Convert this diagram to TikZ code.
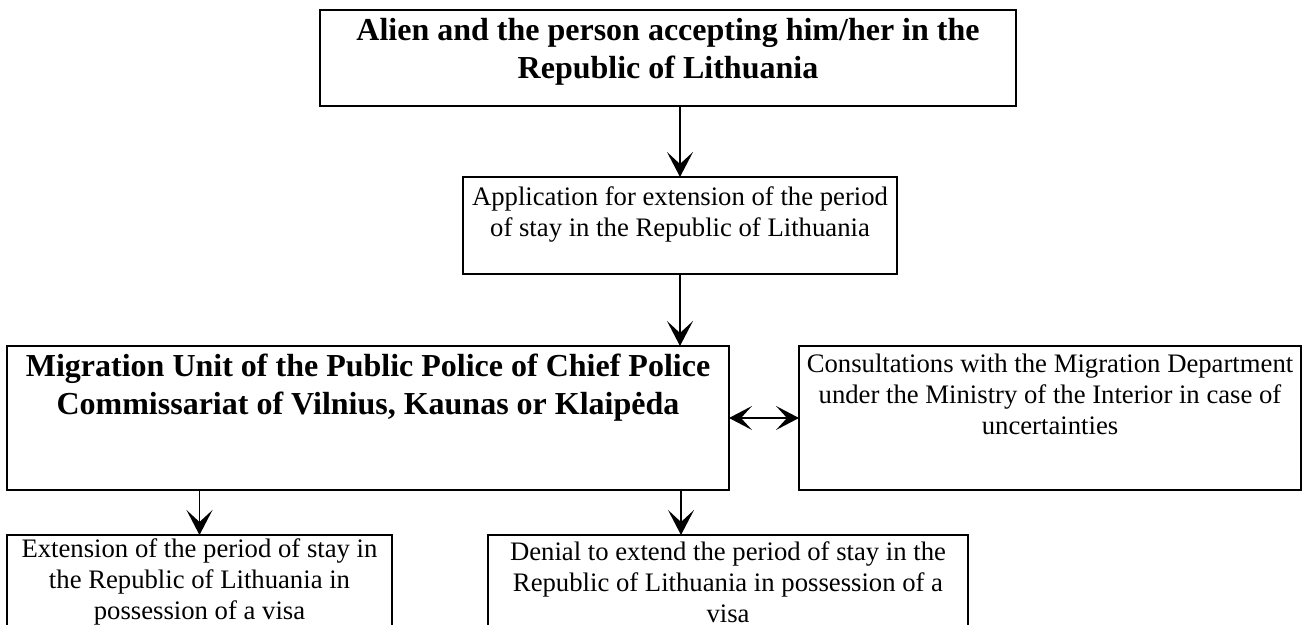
\documentclass[tikz,border=0pt]{standalone}
\usepackage{fontspec}
\setmainfont{Liberation Serif}
\usetikzlibrary{arrows.meta}
\begin{document}
\begin{tikzpicture}[x=0.5pt,y=-0.5pt,
  box/.style={draw, line width=1pt, inner sep=0pt, outer sep=0pt},
  btext/.style={align=center, inner sep=0pt, font=\fontsize{16}{19}\selectfont\bfseries},
  ntext/.style={align=center, inner sep=0pt, font=\fontsize{13.35}{15.5}\selectfont},
  arr/.style={line width=0.8pt, -{Stealth[length=12.5pt, width=13pt, inset=6pt]}},
  arrboth/.style={line width=0.8pt, {Stealth[length=11.5pt, width=12pt, inset=5.5pt]}-{Stealth[length=11.5pt, width=12pt, inset=5.5pt]}}
]
\useasboundingbox (0,0) rectangle (1312,625);
\clip (0,0) rectangle (1312,625);
% boxes
\node[box, minimum width=348pt, minimum height=48pt] (top) at (668,58) {};
\node[box, minimum width=217pt, minimum height=48.5pt] (app) at (680,225.5) {};
\node[box, minimum width=361pt, minimum height=72pt] (mig) at (368,418) {};
\node[box, minimum width=251pt, minimum height=72pt] (cons) at (1050,418) {};
\node[box, minimum width=192.5pt, minimum height=82.5pt] (ext) at (199.5,617.5) {};
\node[box, minimum width=240pt, minimum height=82.5pt] (den) at (728,617.5) {};
\coordinate (ax) at (681,0);
% texts
\node[btext] (ttop) at (668,52) {Alien and the person accepting him/her in the\\Republic of Lithuania};
\node[ntext] (tapp) at (680,214) {Application for extension of the period\\of stay in the Republic of Lithuania};
\node[btext] (tmig) at (368,388) {Migration Unit of the Public Police of Chief Police\\Commissariat of Vilnius, Kaunas or Klaipėda};
\node[ntext] (tcons) at (1050,394) {Consultations with the Migration Department\\under the Ministry of the Interior in case of\\uncertainties};
\node[ntext] (text) at (199.5,582) {Extension of the period of stay in\\the Republic of Lithuania in\\possession of a visa};
\node[ntext] (tden) at (728,582) {Denial to extend the period of stay in the\\Republic of Lithuania in possession of a\\visa};
% connectors
\draw[arr] (top.south -| app.north) -- (app.north);
\draw[arr] (app.south) -- (app.south |- mig.north);
\draw[arrboth] (mig.east) -- (cons.west);
\draw[arr] (mig.south -| ext.north) -- (ext.north);
\draw[arr] (mig.south -| ax) -- (den.north -| ax);
\end{tikzpicture}
\end{document}
